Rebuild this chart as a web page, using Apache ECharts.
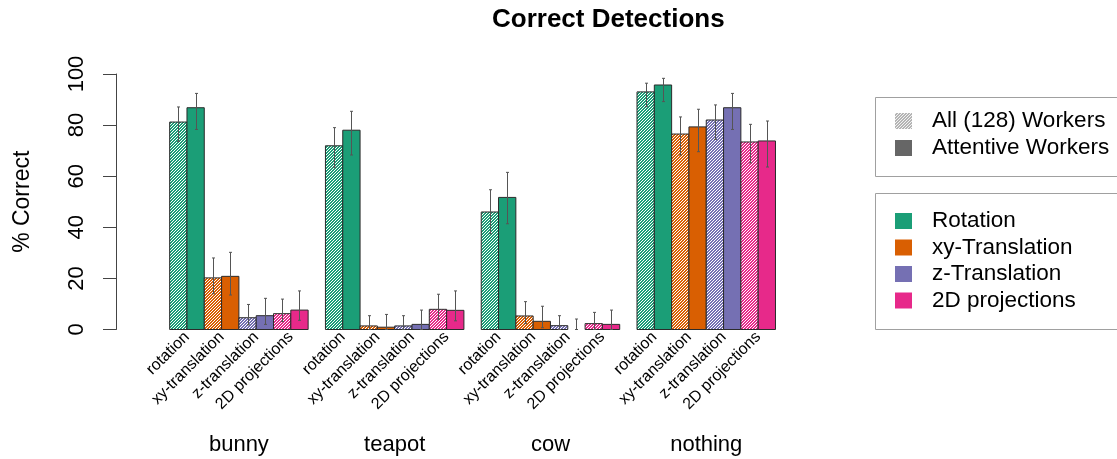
<!DOCTYPE html>
<html>
<head>
<meta charset="utf-8">
<script src="https://cdn.jsdelivr.net/npm/echarts@6/dist/echarts.min.js"></script>
<style>
  html, body { margin: 0; padding: 0; background: #fff; }
  #chart { width: 1117px; height: 459px; }
</style>
</head>
<body>
<div id="chart"></div>
<script>
// Stimulus groups and detection methods
const groups = ['bunny', 'teapot', 'cow', 'nothing'];
const methods = ['rotation', 'xy-translation', 'z-translation', '2D projections'];
const methodLegend = ['Rotation', 'xy-Translation', 'z-Translation', '2D projections'];
const workerLegend = ['All (128) Workers', 'Attentive Workers'];
const methodColors = ['#1B9E77', '#D95F02', '#7570B3', '#E7298A'];

// % correct, all workers (rows: groups, cols: methods)
const allMean = [
  [81.2, 20.2, 4.6, 6.2],
  [71.9, 1.4, 1.4, 7.9],
  [46.0, 5.3, 1.5, 2.3],
  [93.0, 76.5, 82.0, 73.4]
];
const allLow = [
  [73.6, 14.0, 1.8, 3.1],
  [63.5, 0.0, 0.0, 4.0],
  [37.5, 2.3, 0.0, 0.0],
  [87.2, 68.3, 74.4, 65.2]
];
const allHigh = [
  [87.1, 28.0, 9.8, 11.9],
  [79.0, 5.4, 5.4, 13.8],
  [54.7, 10.9, 5.4, 6.7],
  [96.4, 83.2, 87.9, 80.3]
];

// % correct, attentive workers
const attMean = [
  [86.8, 20.8, 5.4, 7.6],
  [78.0, 0.9, 2.0, 7.5],
  [51.7, 3.2, 0.0, 2.0],
  [95.7, 79.3, 86.8, 73.8]
];
const attLow = [
  [78.3, 13.5, 2.0, 3.6],
  [68.3, 0.0, 0.0, 3.4],
  [41.4, 0.7, 0.0, 0.0],
  [89.2, 69.6, 78.3, 63.6]
];
const attHigh = [
  [92.4, 30.2, 12.2, 15.1],
  [85.4, 5.9, 7.6, 15.1],
  [61.5, 9.1, 4.1, 7.6],
  [98.3, 86.2, 92.4, 81.6]
];

const yTicks = [0, 20, 40, 60, 80, 100];

const FONT = '"Liberation Sans", Arial, Helvetica, sans-serif';

// diagonal hatch tile, lines running bottom-left to top-right
function hatchPattern(color, light) {
  const P = 3;
  const c = document.createElement('canvas');
  c.width = P; c.height = P;
  const ctx = c.getContext('2d');
  ctx.fillStyle = light;
  ctx.fillRect(0, 0, P, P);
  ctx.fillStyle = color;
  for (let y = 0; y < P; y++) {
    for (let x = 0; x < P; x++) {
      if ((x + y) % P !== 0) ctx.fillRect(x, y, 1, 1);
    }
  }
  return { type: 'pattern', image: c, repeat: 'repeat' };
}
const methodHatch = methodColors.map(col => hatchPattern(col, '#ffffff'));
const greyHatch = hatchPattern('#b4b4b4', '#f2f2f2');

// bar slots: each group holds 8 unit-wide bars, one empty unit between groups
const barData = [];
groups.forEach((g, gi) => {
  methods.forEach((m, mi) => {
    const left = 1 + gi * 9 + mi * 2;
    barData.push([left + 0.5, allMean[gi][mi], allLow[gi][mi], allHigh[gi][mi], mi, 1]);
    barData.push([left + 1.5, attMean[gi][mi], attLow[gi][mi], attHigh[gi][mi], mi, 0]);
  });
});

const pairLabels = {};
const pairCenters = [];
groups.forEach((g, gi) => methods.forEach((m, mi) => {
  const c = 2 + gi * 9 + mi * 2;
  pairCenters.push(c);
  pairLabels[c] = m;
}));
const groupLabels = {};
const groupCenters = groups.map((g, gi) => { const c = 5 + gi * 9; groupLabels[c] = g; return c; });

function renderBar(params, api) {
  const x = api.value(0), v = api.value(1), lo = api.value(2), hi = api.value(3);
  const mi = api.value(4), hatched = api.value(5);
  const children = [];
  if (v > 0) {
    const a = api.coord([x - 0.5, v]);
    const b = api.coord([x + 0.5, 0]);
    children.push({
      type: 'rect',
      shape: { x: a[0], y: a[1], width: b[0] - a[0], height: b[1] - a[1] },
      style: { fill: hatched ? methodHatch[mi] : methodColors[mi], stroke: '#2b2b2b', lineWidth: 1 }
    });
  }
  const t = api.coord([x, hi]);
  const btm = api.coord([x, lo]);
  const cx = Math.round(t[0]) + 0.5;
  const es = { stroke: '#555', lineWidth: 1 };
  children.push({ type: 'line', shape: { x1: cx, y1: t[1], x2: cx, y2: btm[1] }, style: es });
  children.push({ type: 'line', shape: { x1: cx - 1.5, y1: t[1], x2: cx + 1.5, y2: t[1] }, style: es });
  children.push({ type: 'line', shape: { x1: cx - 1.5, y1: btm[1], x2: cx + 1.5, y2: btm[1] }, style: es });
  return { type: 'group', children };
}

// legend boxes
const legendGraphics = [];
legendGraphics.push({ type: 'rect', shape: { x: 875.5, y: 97.5, width: 260, height: 79 },
  style: { fill: 'none', stroke: '#a0a0a0', lineWidth: 1 } });
const workerFills = [greyHatch, '#666666'];
workerLegend.forEach((label, i) => {
  const cy = 121 + i * 27;
  legendGraphics.push({ type: 'rect', shape: { x: 895, y: cy - 8, width: 17, height: 16 },
    style: { fill: workerFills[i] } });
  legendGraphics.push({ type: 'text', x: 932, y: cy,
    style: { text: label, font: '22.5px ' + FONT, fill: '#000', textVerticalAlign: 'middle', verticalAlign: 'middle' } });
});
legendGraphics.push({ type: 'rect', shape: { x: 875.5, y: 193.5, width: 260, height: 136 },
  style: { fill: 'none', stroke: '#a0a0a0', lineWidth: 1 } });
methodLegend.forEach((label, i) => {
  const cy = 221 + i * 26.5;
  legendGraphics.push({ type: 'rect', shape: { x: 895, y: cy - 8, width: 17, height: 16 },
    style: { fill: methodColors[i] } });
  legendGraphics.push({ type: 'text', x: 932, y: cy,
    style: { text: label, font: '22.5px ' + FONT, fill: '#000', textVerticalAlign: 'middle', verticalAlign: 'middle' } });
});

const chart = echarts.init(document.getElementById('chart'), null, { renderer: 'canvas' });
chart.setOption({
  animation: false,
  backgroundColor: '#ffffff',
  title: {
    text: 'Correct Detections',
    left: 487, top: 2,
    textStyle: { fontFamily: FONT, fontSize: 26, fontWeight: 'bold', color: '#000' }
  },
  grid: { left: 116, right: 324.2, top: 74, bottom: 129.5, containLabel: false },
  xAxis: [
    {
      type: 'value', min: -2.1, max: 37,
      axisLine: { show: false }, axisTick: { show: false }, splitLine: { show: false },
      axisLabel: {
        customValues: pairCenters,
        formatter: v => pairLabels[v] || '',
        rotate: 45, margin: 5,
        fontFamily: FONT, fontSize: 16, color: '#000'
      }
    },
    {
      type: 'value', min: -2.1, max: 37, position: 'bottom',
      axisLine: { show: false }, axisTick: { show: false }, splitLine: { show: false },
      axisLabel: {
        customValues: groupCenters,
        formatter: v => groupLabels[v] || '',
        margin: 104,
        fontFamily: FONT, fontSize: 22, color: '#000'
      }
    }
  ],
  yAxis: {
    type: 'value', min: 0, max: 100, interval: 20,
    name: '% Correct', nameLocation: 'middle', nameRotate: 90, nameGap: 82,
    nameTextStyle: { fontFamily: FONT, fontSize: 23, color: '#000' },
    axisLine: { show: true, onZero: false, lineStyle: { color: '#444', width: 1 } },
    axisTick: { show: true, length: 13, lineStyle: { color: '#444', width: 1 } },
    splitLine: { show: false },
    axisLabel: {
      rotate: 90, margin: 28,
      fontFamily: FONT, fontSize: 22, color: '#000',
      customValues: yTicks
    }
  },
  series: [{
    type: 'custom',
    renderItem: renderBar,
    encode: { x: 0, y: 1 },
    data: barData,
    clip: false
  }],
  graphic: legendGraphics
});
</script>
</body>
</html>
